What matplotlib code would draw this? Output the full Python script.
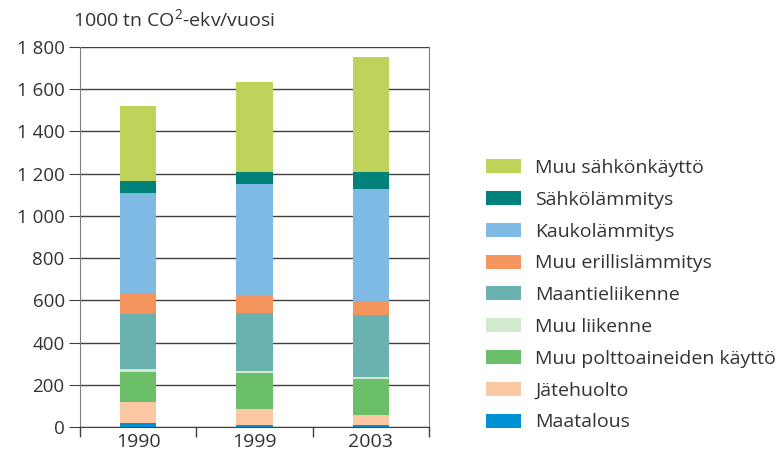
import matplotlib
matplotlib.use('Agg')
import matplotlib.pyplot as plt
import matplotlib.ticker as mticker
from matplotlib.patches import Patch
import numpy as np

plt.rcParams['font.family'] = ['Open Sans', 'DejaVu Sans']
plt.rcParams['mathtext.fontset'] = 'custom'
plt.rcParams['mathtext.rm'] = 'Open Sans'

years = ['1990', '1999', '2003']

# alhaalta ylöspäin
categories = ['Maatalous', 'Jätehuolto', 'Muu polttoaineiden käyttö', 'Muu liikenne',
              'Maantieliikenne', 'Muu erillislämmitys', 'Kaukolämmitys',
              'Sähkölämmitys', 'Muu sähkönkäyttö']
maatalous = [19, 11, 11]
jatehuolto = [100, 74, 46]
muu_polttoaine = [142, 171, 171]
muu_liikenne = [16, 10, 9]
maantieliikenne = [260, 275, 292]
muu_erillis = [96, 83, 69]
kaukolammitys = [476, 528, 530]
sahkolammitys = [57, 57, 81]
muu_sahko = [355, 426, 545]

series = [maatalous, jatehuolto, muu_polttoaine, muu_liikenne, maantieliikenne,
          muu_erillis, kaukolammitys, sahkolammitys, muu_sahko]
colors = ['#0090D4', '#FCC8A4', '#6CBF69', '#D3EAD0', '#6AB2B0',
          '#F5955E', '#7FBAE5', '#00817A', '#BFD25A']

fig = plt.figure(figsize=(7.8, 4.53), dpi=100)
ax = fig.add_axes([80 / 780, 1 - 427 / 453, 349 / 780, 380 / 453])

x = np.arange(len(years))
bottom = np.zeros(len(years))
for vals, col in zip(series, colors):
    ax.bar(x, vals, width=0.31, bottom=bottom, color=col, zorder=3)
    bottom += np.array(vals)

ax.set_xlim(-0.5, 2.5)
ax.set_ylim(0, 1800)
ax.set_yticks(np.arange(0, 1801, 200))
ax.yaxis.set_major_formatter(mticker.FuncFormatter(lambda v, p: f'{int(v):,}'.replace(',', ' ')))
ax.yaxis.grid(True, color='#404040', linewidth=1.0, zorder=0)
ax.set_axisbelow(True)

ax.set_xticks(x)
ax.set_xticklabels(years)
ax.tick_params(axis='x', length=0, labelsize=14, colors='#333333', pad=4)
ax.set_xticks(np.arange(-0.5, 2.6, 1), minor=True)
ax.tick_params(axis='x', which='minor', length=7, color='#404040', width=1)
ax.tick_params(axis='y', length=8, color='#404040', labelsize=13.5, labelcolor='#333333', pad=3)

for s in ['left', 'right']:
    ax.spines[s].set_color('#808080')
ax.spines['top'].set_visible(False)
ax.spines['bottom'].set_color('#404040')

fig.text(73 / 780, 1 - 20 / 453, r'1000 tn CO$^2$-ekv/vuosi', fontsize=14,
         color='#333333', va='center', ha='left')

handles = [Patch(facecolor=c, edgecolor='none') for c in colors[::-1]]
fig.legend(handles, categories[::-1], loc='upper left',
           bbox_to_anchor=(486 / 780, 1 - 159 / 453), frameon=False,
           fontsize=14, labelcolor='#333333', handlelength=1.8, handleheight=0.72,
           handletextpad=0.72, labelspacing=0.71, borderaxespad=0, borderpad=0)

fig.savefig('out.png', dpi=100)
